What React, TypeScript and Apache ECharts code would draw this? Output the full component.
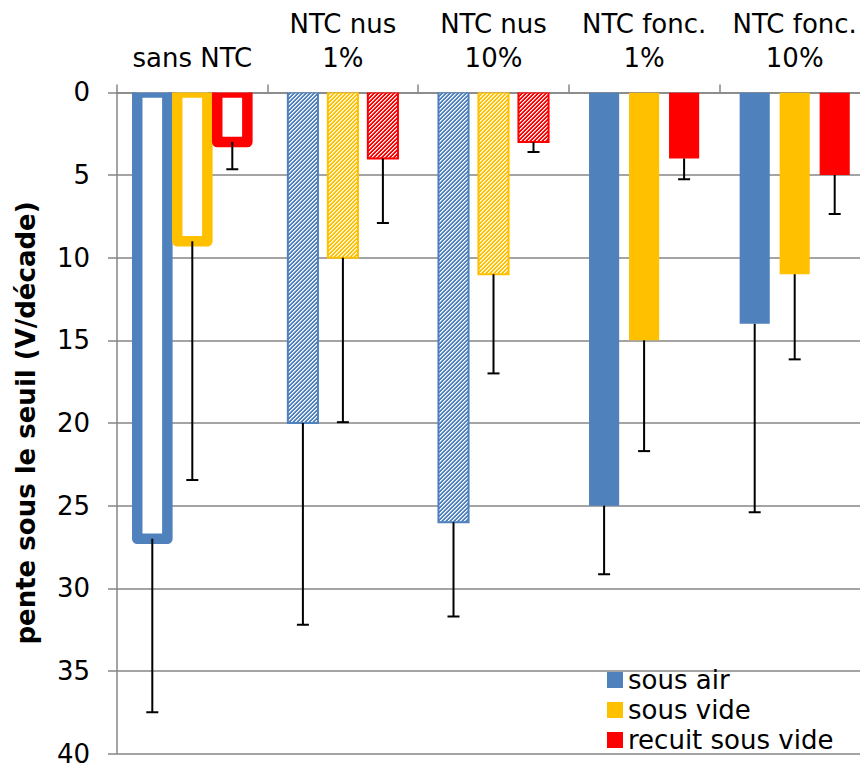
import React, { useEffect, useRef } from "react";
import * as echarts from "echarts";

// ---- data ----
const categories = ["sans NTC", "NTC nus\n1%", "NTC nus\n10%", "NTC fonc.\n1%", "NTC fonc.\n10%"];
const seriesNames = ["sous air", "sous vide", "recuit sous vide"];
const sousAir = [27, 20, 26, 25, 14];
const sousAirErr = [10.5, 12.2, 5.7, 4.15, 11.4];
const sousVide = [9, 10, 11, 15, 11];
const sousVideErr = [14.45, 9.95, 6.0, 6.7, 5.15];
const recuit = [3, 4, 3, 4, 5];
const recuitErr = [1.65, 3.9, 0.6, 1.25, 2.35];
const yMin = 0;
const yMax = 40;
const yInterval = 5;
const yAxisName = "pente sous le seuil (V/décade)";

// ---- styles ----
const colors = ["#4F81BD", "#FFC000", "#FF0000"];
// fill style per category: outline, hatch, hatch, solid, solid
const fillKinds = ["outline", "hatch", "hatch", "solid", "solid"];
const FONT = "DejaVu Sans, Verdana, sans-serif";

function makeHatch(color: string) {
  const size = 8;
  const c = document.createElement("canvas");
  c.width = size;
  c.height = size;
  const ctx = c.getContext("2d")!;
  ctx.fillStyle = color;
  ctx.fillRect(0, 0, size, size);
  for (let x = 0; x < size; x++) {
    for (let y = 0; y < size; y++) {
      const m = (x + y) % 4;
      if (m === 0) {
        ctx.fillStyle = "rgba(255,255,255,1)";
        ctx.fillRect(x, y, 1, 1);
      } else if (m === 1) {
        ctx.fillStyle = "rgba(255,255,255,0.6)";
        ctx.fillRect(x, y, 1, 1);
      }
    }
  }
  return { image: c, repeat: "repeat", imageWidth: size, imageHeight: size } as any;
}

export default function App() {
  const ref = useRef<HTMLDivElement>(null);
  useEffect(() => {
    if (!ref.current) return;
    const chart = echarts.init(ref.current, null, { renderer: "svg" });
    const values = [sousAir, sousVide, recuit];
    const errs = [sousAirErr, sousVideErr, recuitErr];
    const hatches = colors.map((c) => makeHatch(c));

    const series = seriesNames.map((name, s) => ({
      type: "custom",
      name,
      clip: true,
      itemStyle: { color: colors[s] },
      encode: { x: 0, y: 1 },
      data: categories.map((_, i) => [i, values[s][i], errs[s][i]]),
      renderItem: (params: any, api: any) => {
        const i = api.value(0);
        const v = api.value(1);
        const e = api.value(2);
        const base = api.coord([i, 0]);
        const top = api.coord([i, v]);
        const errEnd = api.coord([i, v + e]);
        const band = api.size([1, 0])[0];
        const bw = band * 0.2;
        const step = band * 0.2656;
        const cx = base[0] + (s - 1) * step;
        const kind = fillKinds[i];
        let style: any;
        if (kind === "outline") {
          style = { fill: "#ffffff", stroke: colors[s], lineWidth: 10.5, lineJoin: "round" };
        } else if (kind === "hatch") {
          style = { fill: hatches[s], stroke: colors[s], lineWidth: 2 };
        } else {
          style = { fill: colors[s] };
        }
        return {
          type: "group",
          children: [
            {
              type: "rect",
              shape: { x: cx - bw / 2, y: base[1], width: bw, height: top[1] - base[1] },
              style,
            },
            {
              type: "line",
              shape: { x1: cx, y1: top[1], x2: cx, y2: errEnd[1] },
              style: { stroke: "#000", lineWidth: 2 },
            },
            {
              type: "line",
              shape: { x1: cx - 6, y1: errEnd[1], x2: cx + 6, y2: errEnd[1] },
              style: { stroke: "#000", lineWidth: 2 },
            },
          ],
        };
      },
    }));

    chart.setOption({
      animation: false,
      backgroundColor: "#ffffff",
      grid: {
        left: 117,
        top: 92.4,
        right: -10,
        bottom: 10.4,
        containLabel: false,
        outerBoundsMode: "none",
      },
      legend: {
        orient: "vertical",
        left: 607,
        top: 667,
        icon: "rect",
        itemWidth: 16,
        itemHeight: 16,
        itemGap: 4,
        padding: 0,
        textStyle: { fontSize: 26, lineHeight: 26, color: "#000", fontFamily: FONT },
        data: seriesNames,
      },
      xAxis: {
        type: "category",
        position: "top",
        data: categories,
        axisLine: { show: true, lineStyle: { color: "#868686", width: 1.5 } },
        axisTick: { show: true, length: 8, lineStyle: { color: "#868686", width: 1.5 } },
        axisLabel: {
          fontSize: 26,
          lineHeight: 34,
          color: "#000",
          fontFamily: FONT,
          margin: 17,
          interval: 0,
        },
        splitLine: { show: false },
      },
      yAxis: {
        type: "value",
        inverse: true,
        min: yMin,
        max: yMax,
        interval: yInterval,
        name: yAxisName,
        nameLocation: "middle",
        nameRotate: 90,
        nameGap: 78,
        nameTextStyle: { fontSize: 26, fontWeight: "bold", color: "#000", fontFamily: FONT },
        axisLine: { show: true, lineStyle: { color: "#868686", width: 1.5 } },
        axisTick: { show: true, length: 9, lineStyle: { color: "#868686", width: 1.5 } },
        axisLabel: { fontSize: 26, color: "#000", fontFamily: FONT, margin: 27 },
        splitLine: { show: true, lineStyle: { color: "#868686", width: 1.5 } },
      },
      series,
    } as any);
    return () => chart.dispose();
  }, []);
  return (
    <div
      ref={ref}
      style={{ position: "fixed", left: 0, top: 0, width: 860, height: 764, background: "#fff" }}
    />
  );
}
